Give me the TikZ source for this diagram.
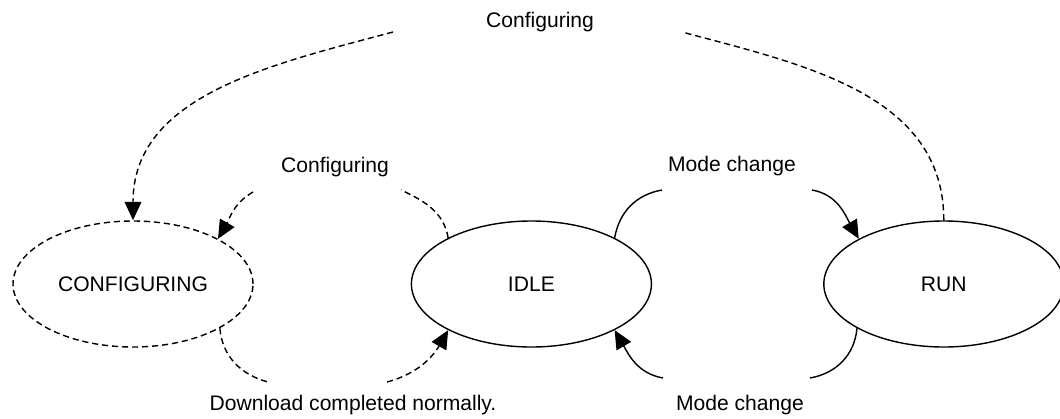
\documentclass[tikz,border=0pt]{standalone}
\usepackage{fontspec}
\setmainfont{Liberation Sans}
\usepackage{tikz}
\usetikzlibrary{positioning}
\usetikzlibrary{shapes.geometric,arrows.meta}
\tikzset{every node/.style={font=\fontsize{12}{14}\selectfont}}

\begin{document}
\begin{tikzpicture}[
state/.style={
draw,
ellipse,
line width=0.8pt,
inner sep=0pt,
minimum width=4.8cm,
minimum height=2.52cm
},
dstate/.style={state, dash pattern=on 3.5pt off 2.2pt},
line/.style={line width=0.8pt},
dline/.style={line, dash pattern=on 3.5pt off 2.2pt},
tip/.style={-{Triangle[length=10.5pt,width=9.5pt]}}
]
\useasboundingbox (0,0) rectangle (21.2,8.36);

\node[dstate] (config) at (2.66,2.68) {CONFIGURING};
\node[state, right=3.14cm of config] (idle) {IDLE};
\node[state, right=3.42cm of idle] (run) {RUN};

\node (cfgtop) at (10.8,7.92) {Configuring};
\node (cfgmid) at (6.7,5.02) {Configuring};
\node (modetop) at (14.64,5.04) {Mode change};
\node (modebot) at (14.8,0.26) {Mode change};
\node (done) at (7.06,0.26) {Download completed normally.};

% ends of the arcs beside the labels
\coordinate (outerR) at (13.64,7.72);
\coordinate (outerL) at (7.86,7.72);
\coordinate (cfgR) at (8.02,4.56);
\coordinate (cfgL) at (5.06,4.52);
\coordinate (modeTL) at (13.24,4.56);
\coordinate (modeTR) at (16.24,4.56);
\coordinate (modeBR) at (16.2,0.8);
\coordinate (modeBL) at (13.26,0.8);
\coordinate (doneL) at (5.36,0.72);
\coordinate (doneR) at (7.74,0.72);

\draw[dline] (run.north) to[out=90,in=-15] (outerR);
\draw[dline,tip] (outerL) to[out=195,in=90] (config.north);

\draw[dline] (idle.151) to[out=100,in=-25] (cfgR);
\draw[dline,tip] (cfgL) to[out=210,in=60] (config.28);

\draw[line] (idle.29) to[out=80,in=190] (modeTL);
\draw[line,tip] (modeTR) to[out=-10,in=120] (run.152);

\draw[line] (run.207) to[out=-95,in=10] (modeBR);
\draw[line,tip] (modeBL) to[out=170,in=-60] (idle.-29);

\draw[dline] (config.-27) to[out=-85,in=165] (doneL);
\draw[dline,tip] (doneR) to[out=15,in=240] (idle.209);
\end{tikzpicture}
\end{document}
